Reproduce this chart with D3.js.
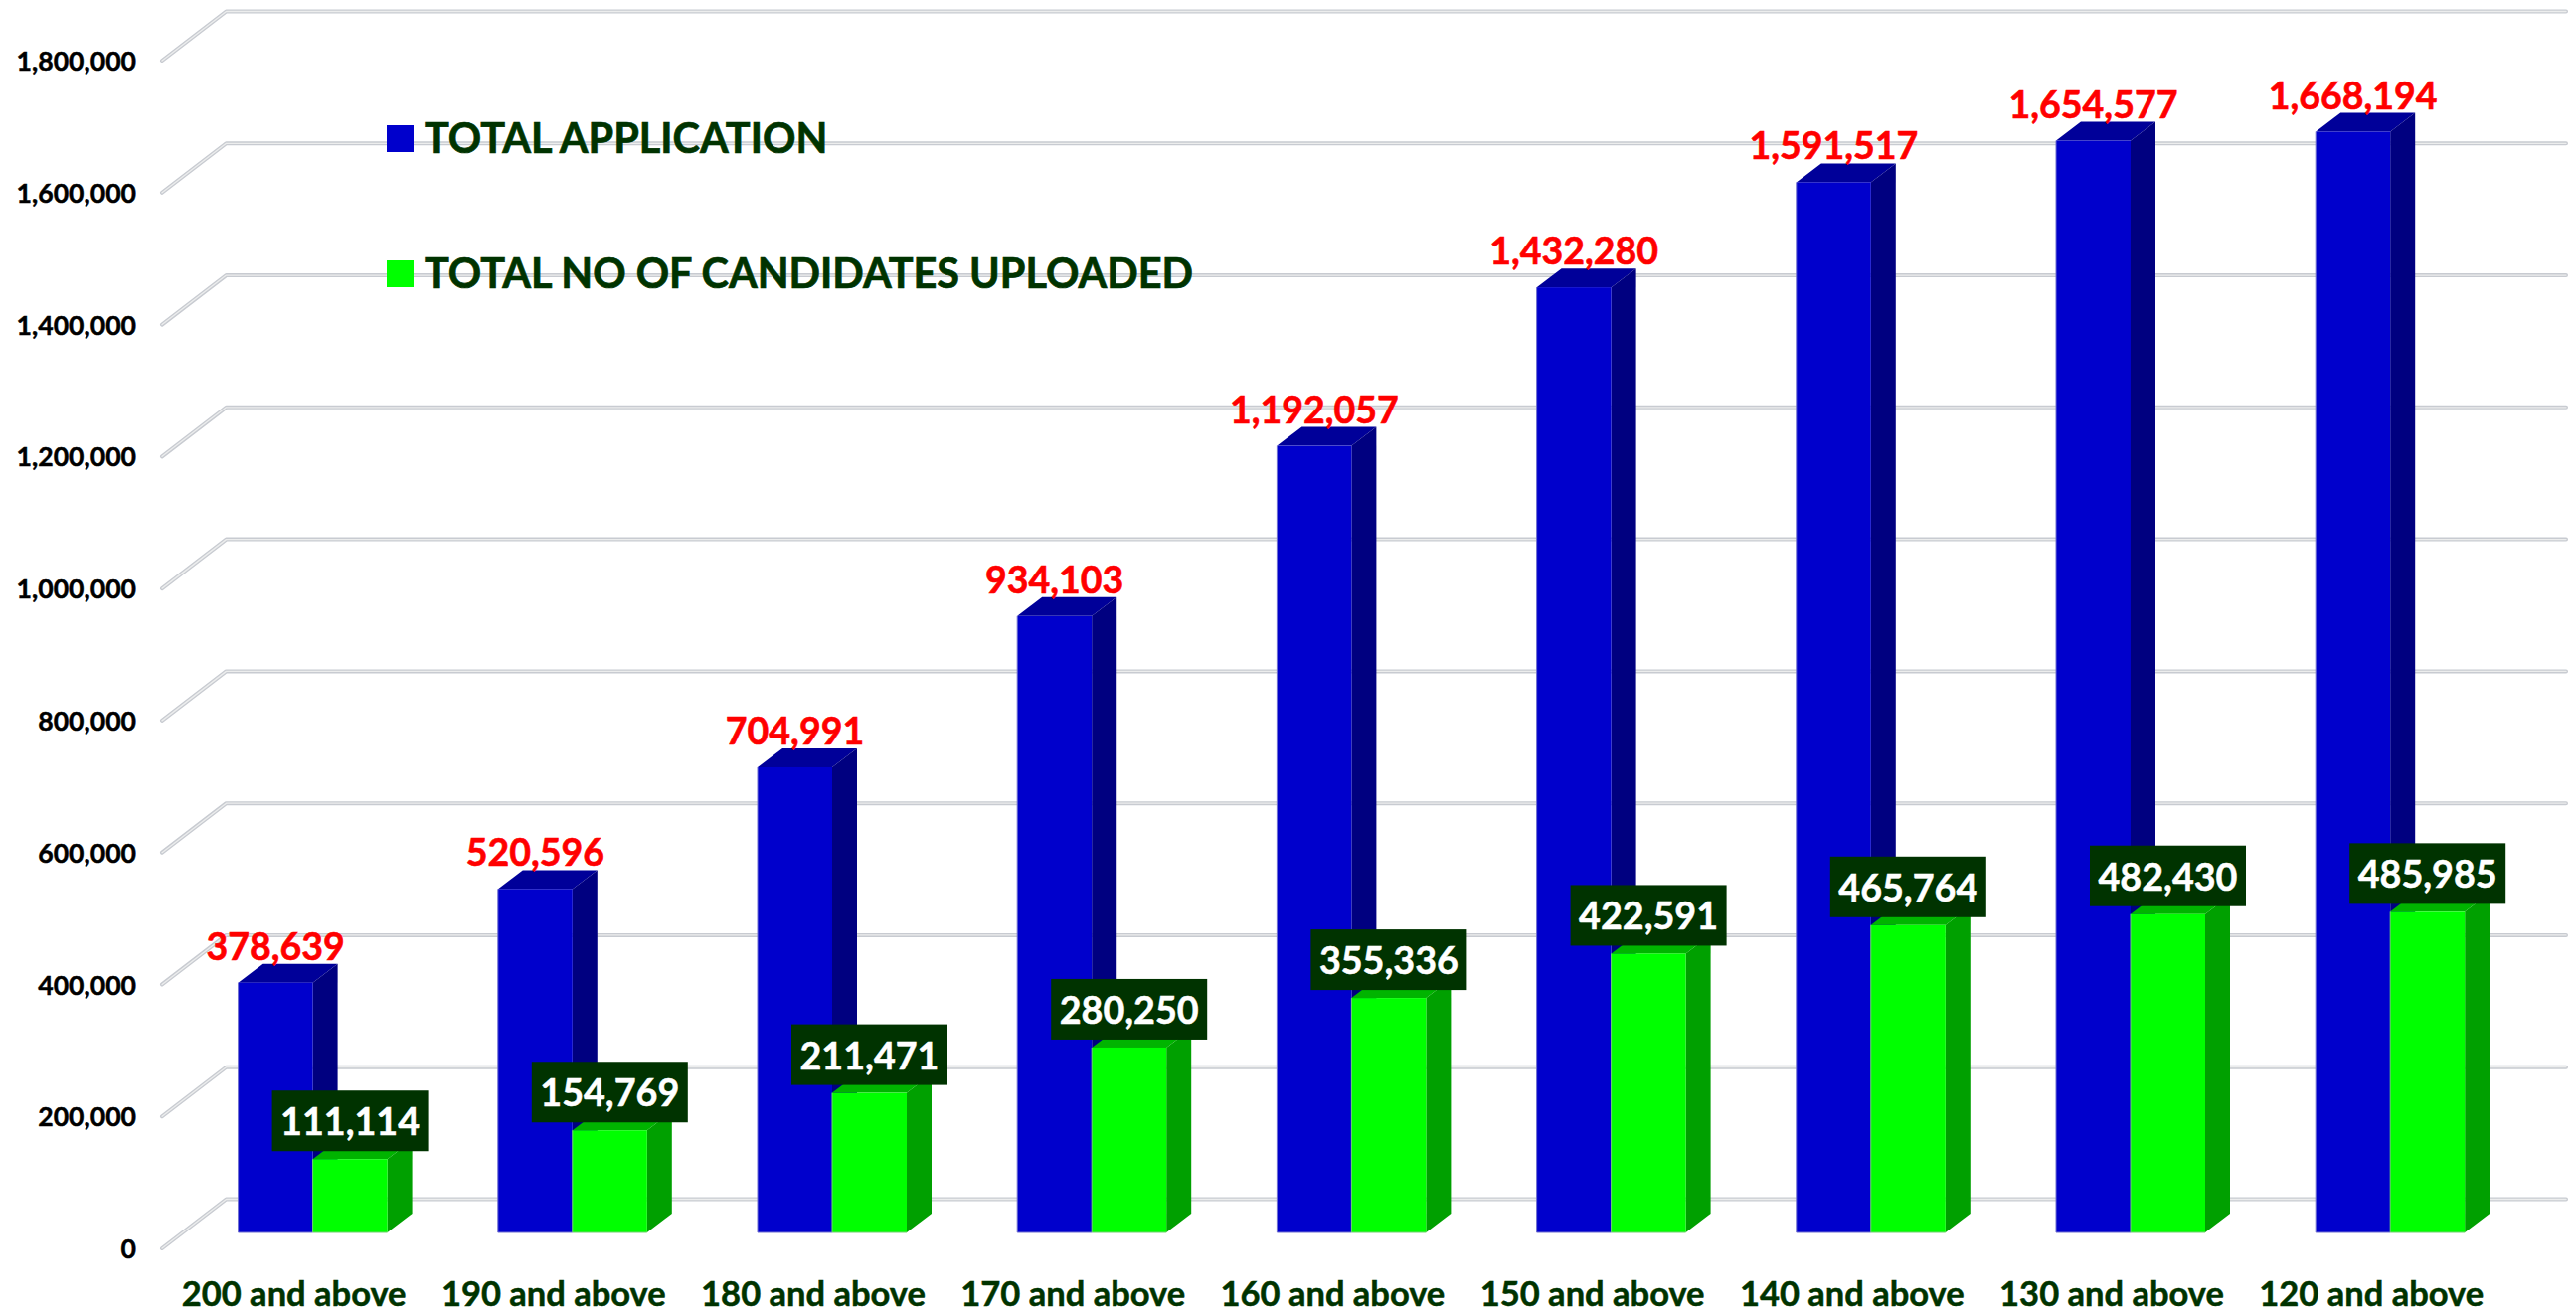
<!DOCTYPE html>
<html><head><meta charset="utf-8">
<script src="https://cdn.jsdelivr.net/npm/d3@7"></script>
<style>
html,body{margin:0;padding:0;background:#fff;overflow:hidden}
svg{display:block}
text{font-family:Lato,"Open Sans",sans-serif;font-weight:700;paint-order:stroke}
.domain{display:none}
</style></head><body>
<svg id="c" width="2591" height="1320"></svg>
<script>
const categories = ["200 and above","190 and above","180 and above","170 and above","160 and above","150 and above","140 and above","130 and above","120 and above"];
const totalApplication = [378639,520596,704991,934103,1192057,1432280,1591517,1654577,1668194];
const totalUploaded = [111114,154769,211471,280250,355336,422591,465764,482430,485985];
const seriesNames = ["TOTAL APPLICATION","TOTAL NO OF CANDIDATES UPLOADED"];
const yTicks = [0,200000,400000,600000,800000,1000000,1200000,1400000,1600000,1800000];

const svg = d3.select("#c");
const fmt = d3.format(",");
const x = d3.scaleBand().domain(categories).range([164, 164 + 9*261.2]);
const y = d3.scaleLinear().domain([0,1800000]).range([1256,61]);
const wall = {dx:64.5, dy:49.5}, inset = {dx:20, dy:16}, depth = {dx:25, dy:19};
const barW = 75, wallRight = 2581;
const blue = {front:"#0000CC", top:"#000099", side:"#000080", edge:"#6f6fcf"};
const green = {front:"#00FF00", top:"#00B400", side:"#00A000", edge:"#70d070"};
const dark = "#003300";

const grid = svg.append("g");
const gridPath = v => `M${x.range()[0]-1},${y(v)}L${x.range()[0]-1+wall.dx},${y(v)-wall.dy}L${wallRight},${y(v)-wall.dy}`;
[["#c8cbd1",4],["#eceded",1.3]].forEach(([c,w]) => {
  grid.selectAll(null).data(yTicks).join("path")
    .attr("d",gridPath).attr("fill","none").attr("stroke",c).attr("stroke-width",w)
    .attr("stroke-linejoin","round").attr("stroke-linecap","round");
});

const yAxis = svg.append("g").attr("transform","translate(140,0)")
  .call(d3.axisLeft(y).tickValues(yTicks).tickFormat(fmt).tickSize(0).tickPadding(3));
yAxis.selectAll("text").attr("font-size",26.6).attr("fill","#000").attr("stroke","#000").attr("stroke-width",0.5).attr("dy","0.36em");

const xAxis = svg.append("g").attr("transform","translate(0,1314)")
  .call(d3.axisBottom(x).tickSize(0).tickPadding(0));
xAxis.selectAll("text").attr("font-size",34.5).attr("fill",dark).attr("stroke",dark).attr("stroke-width",0.5).attr("dy",0).attr("y",0).attr("x",1);

function bar3d(g, left, v, c){
  const base = y(0)-inset.dy, top = y(v)-inset.dy, right = left+barW;
  g.append("path").attr("d",`M${left},${top}L${left+depth.dx},${top-depth.dy}L${right+depth.dx},${top-depth.dy}L${right},${top}Z`).attr("fill",c.top);
  g.append("path").attr("d",`M${right},${top}L${right+depth.dx},${top-depth.dy}L${right+depth.dx},${base-depth.dy}L${right},${base}Z`).attr("fill",c.side);
  g.append("rect").attr("x",left).attr("y",top).attr("width",barW).attr("height",base-top).attr("fill",c.front);
  g.append("path").attr("d",`M${left},${top}V${base}H${right}`).attr("fill","none").attr("stroke",c.edge).attr("stroke-width",1);
}
const bars = svg.append("g");
categories.forEach((cat,i) => {
  const mid = x(cat)+x.bandwidth()/2+inset.dx;
  bar3d(bars, mid-barW, totalApplication[i], blue);
  bar3d(bars, mid, totalUploaded[i], green);
});

const labels = svg.append("g");
categories.forEach((cat,i) => {
  const mid = x(cat)+x.bandwidth()/2+inset.dx;
  labels.append("text").attr("x",mid-barW/2).attr("y",y(totalApplication[i])-inset.dy-depth.dy-4)
    .attr("text-anchor","middle").attr("font-size",37.5).attr("fill","#FF0000").attr("stroke","#FF0000").attr("stroke-width",0.6).text(fmt(totalApplication[i]));
  const gx = mid+barW/2, gTop = y(totalUploaded[i])-inset.dy;
  labels.append("rect").attr("x",gx-78.5).attr("y",gTop-69).attr("width",157).attr("height",61).attr("fill",dark);
  labels.append("text").attr("x",gx).attr("y",gTop-24)
    .attr("text-anchor","middle").attr("font-size",37.7).attr("fill","#fff").attr("stroke","#fff").attr("stroke-width",0.5).text(fmt(totalUploaded[i]));
});

const legend = svg.append("g");
[[blue.front,126],[green.front,262]].forEach(([c,ty],i) => {
  legend.append("rect").attr("x",389).attr("y",ty).attr("width",27).attr("height",27).attr("fill",c);
  legend.append("text").attr("x",427).attr("y",ty+28).attr("font-size",41.4).attr("fill",dark).attr("stroke",dark).attr("stroke-width",0.7).text(seriesNames[i]);
});
</script></body></html>
